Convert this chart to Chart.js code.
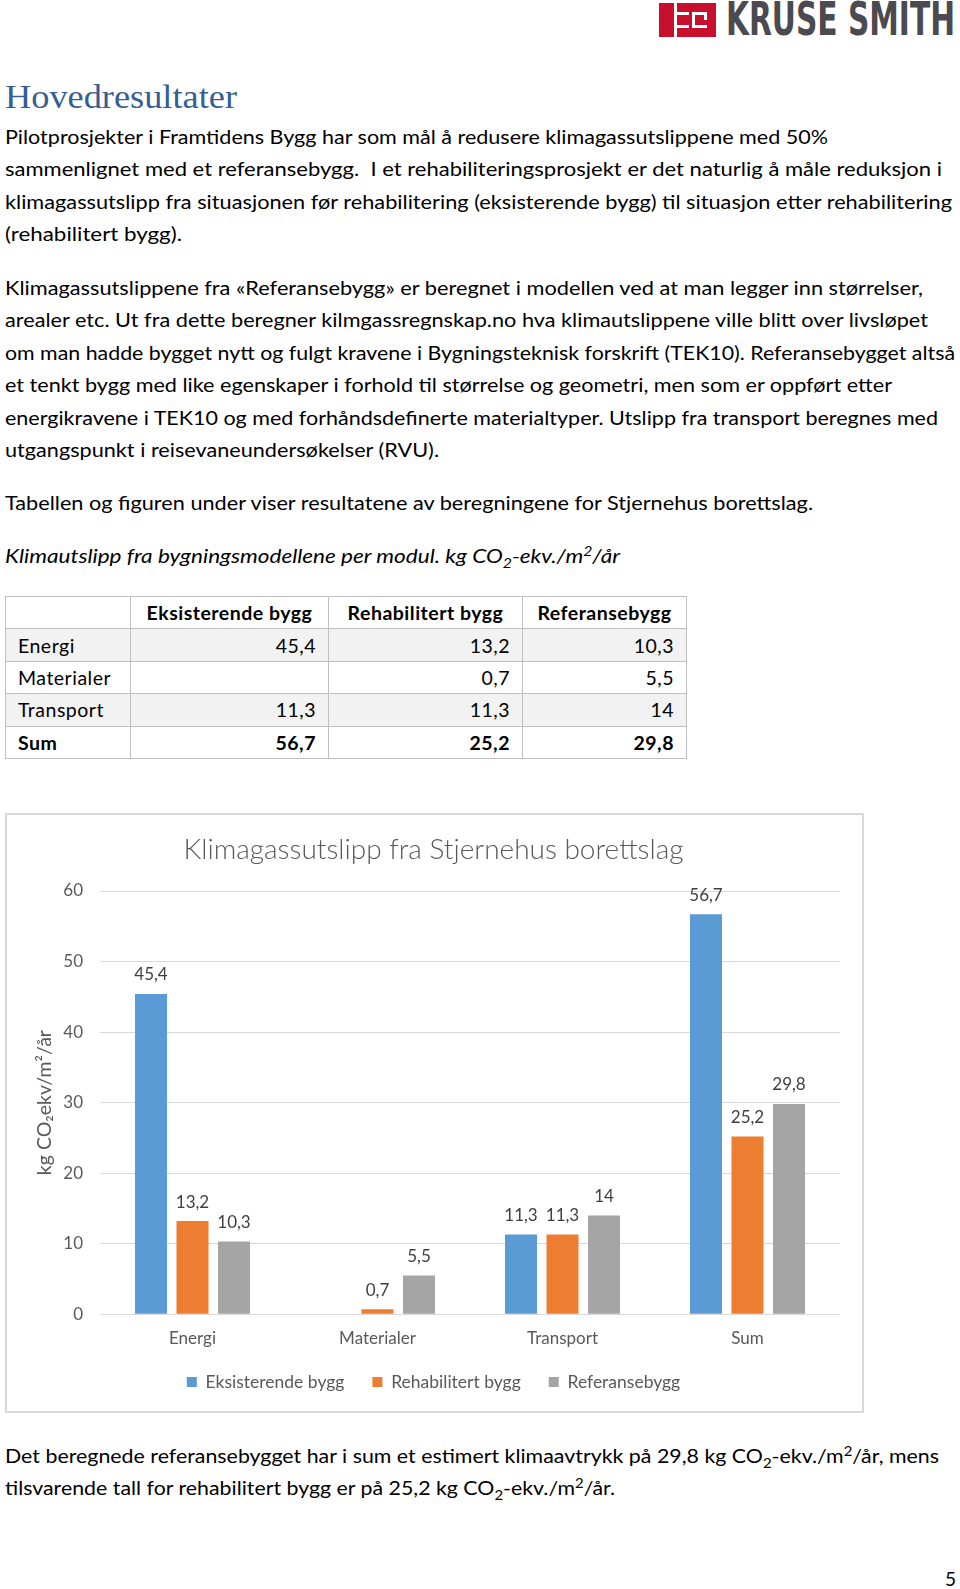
<!DOCTYPE html>
<html lang="no">
<head>
<meta charset="utf-8">
<script src="https://cdn.jsdelivr.net/npm/chart.js@4.4.1/dist/chart.umd.min.js"></script>
<style>
  html,body{margin:0;padding:0;background:#fff;}
  body{width:960px;height:1589px;position:relative;overflow:hidden;font-family:Lato,"Open Sans",sans-serif;color:#000;}
  .fit{position:absolute;left:5px;white-space:nowrap;display:inline-block;transform-origin:0 50%;font-size:18.5px;line-height:24px;margin:0;}
  .fit sub,.fit sup{font-size:0.7em;line-height:0;}
  #tbl{position:absolute;left:5px;top:596px;border-collapse:collapse;font-size:19.5px;letter-spacing:0.5px;table-layout:fixed;}
  #tbl td{border:1px solid #bfbfbf;height:32.4px;padding:0 12px;white-space:nowrap;box-sizing:border-box;}
  #tbl td.num{text-align:right;}
  #tbl td.hd{text-align:center;font-weight:bold;padding:0 2px;}
  #tbl tr.sum td{font-weight:bold;}
  #tbl tr.shade td{background:#f2f2f2;}
  #chartBox{position:absolute;left:5px;top:813px;width:859px;height:600px;border:2px solid #d9d9d9;box-sizing:border-box;}
  #chartBox canvas{position:absolute;left:0;top:0;}
  #logoIcon{position:absolute;left:659px;top:3px;width:57px;height:34px;background:#c8102e;}
  #logoIcon div{position:absolute;background:#fff;}
  #pnum{position:absolute;left:945px;top:1567px;font-size:19px;line-height:24px;}
</style>
</head>
<body>
<div id="logoIcon">
  <div style="left:15px;top:0;width:3px;height:34px"></div>
  <div style="left:18px;top:9px;width:12px;height:3px"></div>
  <div style="left:18px;top:22px;width:12px;height:3px"></div>
  <div style="left:33px;top:9px;width:3px;height:16px"></div>
  <div style="left:36px;top:9px;width:12px;height:3px"></div>
  <div style="left:36px;top:22px;width:12px;height:3px"></div>
  <div style="left:45px;top:12px;width:3px;height:5px"></div>
</div>
<div class="fit" data-w="229" style="left:726px;top:-4px;font-family:'Liberation Sans Narrow','DejaVu Sans Condensed',Roboto,sans-serif;font-weight:bold;font-size:47px;line-height:46px;color:#4a4a50;">KRUSE SMITH</div>

<h1 class="fit" data-w="232" style="left:5px;top:77px;font-family:'Liberation Serif','DejaVu Serif',serif;font-weight:normal;color:#365f91;font-size:33px;line-height:40px;">Hovedresultater</h1>

<div class="fit" data-w="823" style="top:125px">Pilotprosjekter i Framtidens Bygg har som mål å redusere klimagassutslippene med 50%</div>
<div class="fit" data-w="937" style="top:157px">sammenlignet med et referansebygg.&nbsp; I et rehabiliteringsprosjekt er det naturlig å måle reduksjon i</div>
<div class="fit" data-w="947" style="top:190px">klimagassutslipp fra situasjonen før rehabilitering (eksisterende bygg) til situasjon etter rehabilitering</div>
<div class="fit" data-w="177" style="top:222px">(rehabilitert bygg).</div>

<div class="fit" data-w="918" style="top:276px">Klimagassutslippene fra «Referansebygg» er beregnet i modellen ved at man legger inn størrelser,</div>
<div class="fit" data-w="923" style="top:308px">arealer etc. Ut fra dette beregner kilmgassregnskap.no hva klimautslippene ville blitt over livsløpet</div>
<div class="fit" data-w="950" style="top:341px">om man hadde bygget nytt og fulgt kravene i Bygningsteknisk forskrift (TEK10). Referansebygget altså</div>
<div class="fit" data-w="887" style="top:373px">et tenkt bygg med like egenskaper i forhold til størrelse og geometri, men som er oppført etter</div>
<div class="fit" data-w="933" style="top:406px">energikravene i TEK10 og med forhåndsdefinerte materialtyper. Utslipp fra transport beregnes med</div>
<div class="fit" data-w="434" style="top:438px">utgangspunkt i reisevaneundersøkelser (RVU).</div>

<div class="fit" data-w="808" style="top:491px">Tabellen og figuren under viser resultatene av beregningene for Stjernehus borettslag.</div>
<div class="fit" data-w="615" style="top:544px;font-style:italic">Klimautslipp fra bygningsmodellene per modul. kg CO<sub>2</sub>-ekv./m<sup>2</sup>/år</div>

<table id="tbl">
  <colgroup><col style="width:125px"><col style="width:198px"><col style="width:194px"><col style="width:164px"></colgroup>
  <tbody id="tbody"></tbody>
</table>

<div id="chartBox"><canvas id="c" width="855" height="596"></canvas></div>

<div class="fit" data-w="934" style="top:1444px">Det beregnede referansebygget har i sum et estimert klimaavtrykk på 29,8 kg CO<sub>2</sub>-ekv./m<sup>2</sup>/år, mens</div>
<div class="fit" data-w="610" style="top:1476px">tilsvarende tall for rehabilitert bygg er på 25,2 kg CO<sub>2</sub>-ekv./m<sup>2</sup>/år.</div>

<div id="pnum">5</div>

<script>
// ---- data ----
const categories = ['Energi', 'Materialer', 'Transport', 'Sum'];
const seriesNames = ['Eksisterende bygg', 'Rehabilitert bygg', 'Referansebygg'];
const eksisterende = [45.4, null, 11.3, 56.7];
const rehabilitert = [13.2, 0.7, 11.3, 25.2];
const referanse = [10.3, 5.5, 14, 29.8];
const yMin = 0, yMax = 60, yStep = 10;
const chartTitle = 'Klimagassutslipp fra Stjernehus borettslag';
const yTitle = 'kg CO\u2082ekv/m\u00B2/år';
const seriesColors = ['#5B9BD5', '#ED7D31', '#A5A5A5'];

const fmt = v => (v === null || v === undefined) ? '' : String(v).replace('.', ',');

// ---- table ----
const tb = document.getElementById('tbody');
let html = '<tr><td></td>' + seriesNames.map(n => '<td class="hd">' + n + '</td>').join('') + '</tr>';
const allSeries = [eksisterende, rehabilitert, referanse];
categories.forEach((c, i) => {
  const cls = (i === categories.length - 1) ? 'sum' : (i % 2 === 0 ? 'shade' : '');
  html += '<tr class="' + cls + '"><td>' + c + '</td>' + allSeries.map(s => '<td class="num">' + fmt(s[i]) + '</td>').join('') + '</tr>';
});
tb.innerHTML = html;

// ---- fit text lines ----
document.querySelectorAll('.fit').forEach(el => {
  const w = parseFloat(el.dataset.w);
  const nat = el.getBoundingClientRect().width;
  if (w && nat) el.style.transform = 'scaleX(' + (w / nat) + ')';
});

// ---- chart ----
const valueLabels = {
  id: 'valueLabels',
  afterDatasetsDraw(chart) {
    const ctx = chart.ctx;
    ctx.save();
    ctx.font = '17px Lato';
    ctx.fillStyle = '#404040';
    ctx.textAlign = 'center';
    ctx.textBaseline = 'middle';
    chart.data.datasets.forEach((ds, i) => {
      const meta = chart.getDatasetMeta(i);
      meta.data.forEach((bar, j) => {
        const v = ds.data[j];
        if (v === null || v === undefined) return;
        ctx.fillText(fmt(v), bar.x, bar.y - 19);
      });
    });
    ctx.restore();
  }
};

// fine-tune the legend's vertical position (Excel-style spacing)
const legendShift = {
  id: 'legendShift',
  afterLayout(chart) {
    const l = chart.legend;
    if (l) { l.top -= 17; l.bottom -= 17; }
  }
};

new Chart(document.getElementById('c'), {
  type: 'bar',
  data: {
    labels: categories,
    datasets: [
      { label: seriesNames[0], data: eksisterende, backgroundColor: seriesColors[0] },
      { label: seriesNames[1], data: rehabilitert, backgroundColor: seriesColors[1] },
      { label: seriesNames[2], data: referanse, backgroundColor: seriesColors[2] }
    ]
  },
  options: {
    responsive: false,
    animation: false,
    devicePixelRatio: 1,
    layout: { padding: { left: 20, right: 22, top: 0, bottom: -6.7 } },
    datasets: { bar: { categoryPercentage: 0.673, barPercentage: 0.771 } },
    plugins: {
      title: {
        display: true, text: chartTitle, color: '#595959',
        font: { family: 'Lato', size: 28, weight: '300', lineHeight: 1.2 },
        padding: { top: 18.2, bottom: 24.2 }
      },
      legend: {
        position: 'bottom',
        labels: { boxWidth: 10, boxHeight: 10, padding: 28, color: '#595959', font: { family: 'Lato', size: 17.5 } }
      },
      tooltip: { enabled: false }
    },
    scales: {
      x: {
        grid: { display: false, drawTicks: false },
        border: { display: false },
        ticks: { color: '#595959', font: { family: 'Lato', size: 17, lineHeight: 1.2 }, padding: 13.8 }
      },
      y: {
        min: yMin, max: yMax,
        ticks: { stepSize: yStep, color: '#595959', font: { family: 'Lato', size: 17 }, padding: 17 },
        grid: { color: '#d9d9d9', drawTicks: false },
        border: { display: false },
        title: { display: true, text: yTitle, color: '#595959', font: { family: 'Lato', size: 19.5, lineHeight: 1.2 }, padding: { top: 6, bottom: 0 } },
        afterFit(s) { s.width = 73; }
      }
    }
  },
  plugins: [valueLabels, legendShift]
});
</script>
</body>
</html>
